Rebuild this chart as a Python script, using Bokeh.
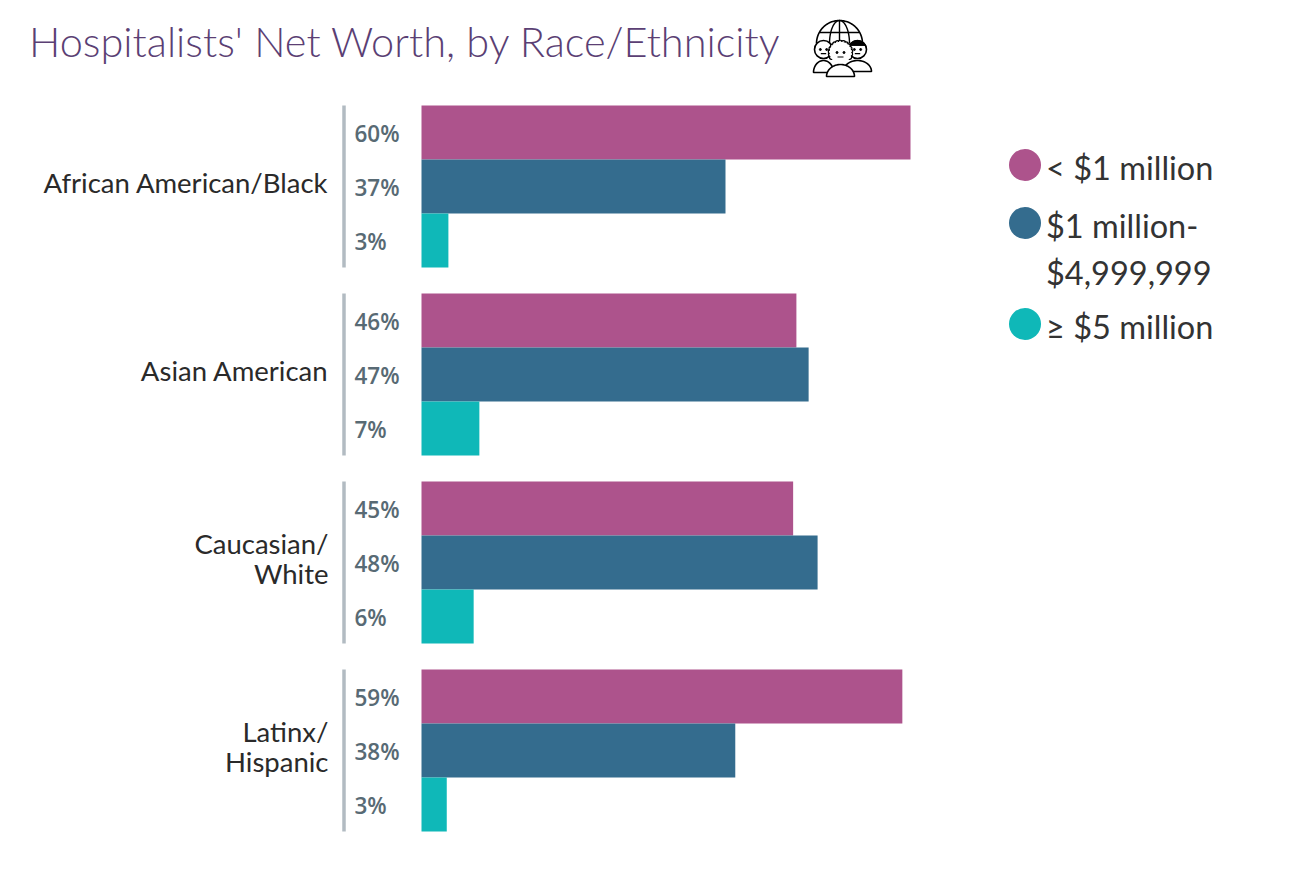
import numpy as np
from bokeh.embed import file_html
from bokeh.resources import INLINE
from bokeh.plotting import figure
from bokeh.models import Range1d, FixedTicker, Label, ColumnDataSource, LinearAxis
from bokeh.core.properties import value

categories = ["African American/Black", "Asian American", "Caucasian/\nWhite", "Latinx/\nHispanic"]
series_names = ["< $1 million", "$1 million-", "$4,999,999", "\u2265 $5 million"]
under_1m = [60.0, 46.0, 45.6, 59.0]
mid_1m_5m = [37.3, 47.5, 48.6, 38.5]
over_5m = [3.3, 7.1, 6.4, 3.1]
labels_under_1m = ["60%", "46%", "45%", "59%"]
labels_mid = ["37%", "47%", "48%", "38%"]
labels_over = ["3%", "7%", "6%", "3%"]
title_text = "Hospitalists' Net Worth, by Race/Ethnicity"

MAGENTA, BLUE, TEAL = "#AD538C", "#346C8E", "#0FB8B8"
W, H = 1274, 862
PXX = 8.15      # px per percent
PXY = 188.0     # px per group
X0, Y0 = 421.0, 186.0   # canvas px of value 0 / first group


def X(px):
    return (np.asarray(px, dtype=float) - X0) / PXX


def Y(py):
    return (np.asarray(py, dtype=float) - Y0) / PXY


p = figure(width=W, height=H, output_backend="svg", toolbar_location=None,
           x_range=Range1d(float(X(0)), float(X(W))),
           y_range=Range1d(float(Y(H)), float(Y(0))),
           x_axis_location=None, y_axis_location=None,
           min_border_left=0, min_border_right=0, min_border_top=0, min_border_bottom=0,
           background_fill_color="white", border_fill_color="white", outline_line_color=None)
p.grid.visible = False

# category axis: own range nudged so that the labels sit as in the reference
nudge = 4.0 / PXY
p.extra_y_ranges = {"cat": Range1d(float(Y(H)) + nudge, float(Y(0)) + nudge)}
ax = LinearAxis(y_range_name="cat", fixed_location=float(X(340)),
                ticker=FixedTicker(ticks=list(range(len(categories)))),
                major_label_overrides={i: c for i, c in enumerate(categories)},
                axis_line_color=None, major_tick_line_color=None, minor_tick_line_color=None,
                major_label_standoff=6, major_label_text_font="Lato",
                major_label_text_font_size="27.5px", major_label_text_color="#2A2A2A",
                major_label_text_line_height=0.9)
p.add_layout(ax, "left")

idx = np.arange(len(categories), dtype=float)
bar_h = 54.0 / PXY
for k, (vals, labs, col) in enumerate([(under_1m, labels_under_1m, MAGENTA),
                                       (mid_1m_5m, labels_mid, BLUE),
                                       (over_5m, labels_over, TEAL)]):
    ys = idx + (k - 1) * bar_h
    src = ColumnDataSource(dict(y=ys, v=vals, t=labs, z=[0.0] * len(vals)))
    p.hbar(y="y", left=0, right="v", height=bar_h, color=col, line_color=None, source=src)
    p.text(x="z", y="y", text="t", source=src, x_offset=-67, y_offset=1, text_align="left",
           text_baseline="middle", text_font=value("Open Sans SemiBold"),
           text_font_size="22.5px", text_color="#586A74")

# grey rule beside each group
rule_x = float(X(343.5))
p.segment(x0=[rule_x] * 4, x1=[rule_x] * 4, y0=idx - 1.5 * bar_h, y1=idx + 1.5 * bar_h,
          line_color="#B2BBC2", line_width=3.5)

# title
p.add_layout(Label(x=float(X(28.5)), y=float(Y(40)), text=title_text, text_font="Lato Light",
                   text_font_size="41.5px", text_color="#5B3F74",
                   text_baseline="middle", text_align="left"))

# legend
leg_col = [MAGENTA, BLUE, TEAL]
leg_py = [164.5, 222.5, 323.5]
p.scatter(X([1024.5] * 3), Y(leg_py), size=32, marker="circle", color=leg_col, line_color=None)
for txt, py in zip(series_names, [167, 225, 272, 326]):
    p.add_layout(Label(x=float(X(1045.5)), y=float(Y(py)), text=txt, text_font="Lato",
                       text_font_size="32.5px", text_color="#333333",
                       text_baseline="middle", text_align="left"))

# icon: globe behind three people
t = np.linspace(np.pi * 1.0, np.pi * 2.0, 60)
gx, gy, gr = 839.0, 43.0, 23.0
p.line(X(gx + gr * np.cos(t)), Y(gy + gr * np.sin(t)), line_color="black", line_width=1.6)
p.line(X(gx + 10 * np.cos(t)), Y(gy + gr * np.sin(t)), line_color="black", line_width=1.4)
p.line(X([gx, gx]), Y([gy - gr, gy]), line_color="black", line_width=1.4)
p.line(X([gx - 20, gx + 20]), Y([gy - 11, gy - 11]), line_color="black", line_width=1.4)


def person(cx, hy, hr, bw, top, bottom, hair=False, cap=False):
    s = np.linspace(np.pi, 2 * np.pi, 30)
    bx = np.concatenate([cx + bw * np.cos(s), [cx - bw]])
    by = np.concatenate([bottom + (bottom - top) * np.sin(s), [bottom]])
    p.patch(X(bx), Y(by), fill_color="white", line_color="black", line_width=1.6)
    if hair:
        a = np.linspace(np.pi * 0.85, np.pi * 2.15, 15)
        p.scatter(X(cx + hr * np.cos(a)), Y(hy + hr * np.sin(a)), size=4.5, marker="circle",
                  fill_color="white", line_color="black", line_width=1.2)
    p.scatter(X([cx]), Y([hy]), size=2 * hr, marker="circle", fill_color="white",
              line_color="black" if not hair else "white", line_width=1.6)
    if cap:
        a = np.linspace(np.pi * 1.15, np.pi * 1.85, 20)
        p.patch(X(cx + hr * np.cos(a)), Y(hy + hr * np.sin(a)), fill_color="black", line_color="black")
    p.scatter(X([cx - hr * 0.35, cx + hr * 0.35]), Y([hy, hy]), size=2, marker="circle", color="black")
    p.line(X([cx - hr * 0.3, cx + hr * 0.3]), Y([hy + hr * 0.45, hy + hr * 0.45]), line_color="black", line_width=1.2)


person(823, 49, 9, 10, 60, 72)
person(857, 49, 9, 14, 60, 71, cap=True)
person(840, 52, 10, 14, 64, 76, hair=True)

open("out.html", "w").write(file_html(p, INLINE))
